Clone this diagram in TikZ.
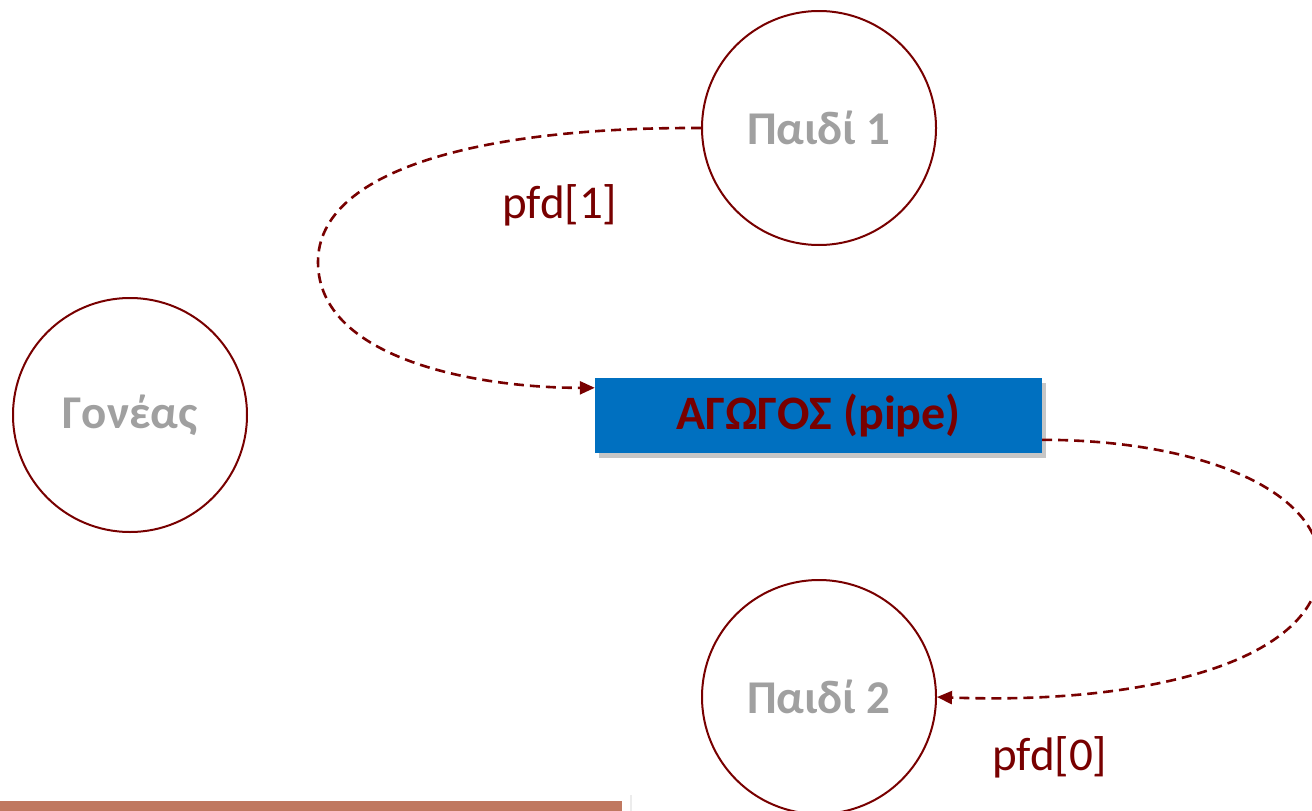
\documentclass[tikz,border=0pt]{standalone}
\usepackage{fontspec}
\setmainfont{Carlito}
\usepackage{xcolor}
\usetikzlibrary{arrows.meta,calc,shadows,positioning}

\definecolor{wine}{RGB}{120,0,0}
\definecolor{greytxt}{RGB}{160,160,160}
\definecolor{pipeblue}{RGB}{0,112,192}
\definecolor{barbrown}{RGB}{192,120,96}

\tikzset{
  proc/.style={circle,draw=wine,line width=2pt,minimum size=234pt,inner sep=0pt,
    text=greytxt,font=\fontsize{47}{52}\selectfont\bfseries},
  pipebox/.style={rectangle,fill=pipeblue,minimum width=447pt,minimum height=75pt,
    text=wine,font=\fontsize{48}{52}\selectfont\bfseries,
    drop shadow={opacity=0.45,shadow xshift=4pt,shadow yshift=-5pt}},
  flow/.style={wine,line width=2.6pt,dash pattern=on 10pt off 6pt,
    -{Triangle[length=15pt,width=13pt]}},
  fdlabel/.style={text=wine,font=\fontsize{47}{52}\selectfont}
}

\begin{document}
\begin{tikzpicture}[x=1pt,y=-1pt]
  \useasboundingbox (0,0) rectangle (1312,811);
  % processes
  \node[proc] (parent) at (130,415) {Γονέας};
  \node[proc] (child1) at (819,128) {Παιδί 1};
  \node[proc] (child2) at (819,697) {Παιδί 2};
  % the pipe
  \node[pipebox] (pipe) at (818.5,415.5) {ΑΓΩΓΟΣ (pipe)};
  \coordinate (pipein) at ($(pipe.north west)+(0,10)$);
  \coordinate (pipeout) at ($(pipe.north east)+(0,62)$);
  % write end and read end
  \draw[flow] (child1.west) .. controls (480,127) and (318,170) .. (318,262)
    .. controls (318,360) and (480,388) .. (pipein);
  \draw[flow] (pipeout) .. controls (1200,440) and (1320,490) .. (1320,565)
    .. controls (1320,660) and (1150,705) .. (child2.east);
  \node[fdlabel] (lab1) at (560,205) {pfd[1]};
  \node[fdlabel] (lab0) at (1050,757) {pfd[0]};
  % bottom bar
  \fill[white,drop shadow={opacity=0.15,shadow xshift=2pt,shadow yshift=-1pt}]
    (-5,794) rectangle (630,820);
  \fill[barbrown] (0,801) rectangle (622,811);
\end{tikzpicture}
\end{document}
